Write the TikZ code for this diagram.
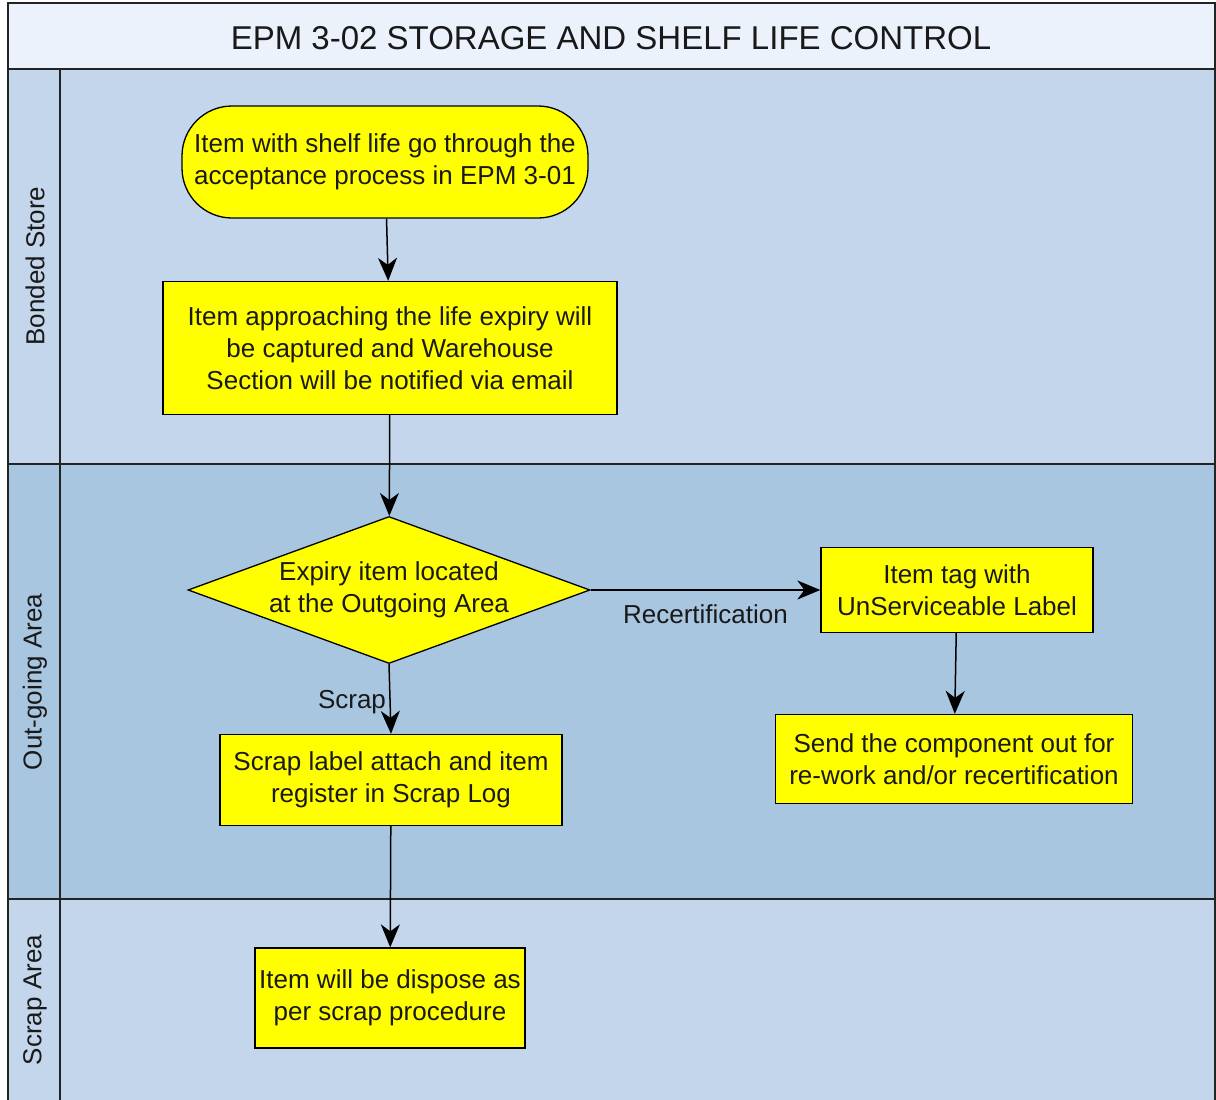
\documentclass[tikz,border=0pt]{standalone}
\usepackage{fontspec}
\setmainfont{Liberation Sans}
\usepackage{tikz}
\usetikzlibrary{positioning,arrows.meta,shapes.geometric}
\usepackage{xcolor}
\definecolor{titlebg}{RGB}{235,242,252}
\definecolor{laneA}{RGB}{196,214,235}
\definecolor{laneB}{RGB}{169,198,225}
\definecolor{frame}{RGB}{35,35,35}
\definecolor{txt}{RGB}{25,25,25}
\definecolor{boxfill}{RGB}{255,255,0}

\begin{document}
\begin{tikzpicture}[
    x=1pt, y=-1pt,
    base/.style={draw=black, line width=1.3pt, fill=boxfill, align=center, text=txt, font=\fontsize{26}{32}\selectfont, inner sep=0pt},
    box/.style={base, rectangle},
    terminal/.style={base, rectangle, rounded corners=50pt},
    decision/.style={base, diamond, aspect=2.7, inner xsep=-60pt, inner ysep=-10pt},
    lanelabel/.style={rotate=90, text=txt, font=\fontsize{26}{32}\selectfont},
    edgelabel/.style={text=txt, font=\fontsize{26}{32}\selectfont},
    lane/.style={draw=frame, line width=1.6pt},
    arrow/.style={-{Stealth[length=23pt, width=19pt, inset=7pt]}, line width=1.5pt}
]
    \useasboundingbox (0,0) rectangle (1216,1100);

    % Swimlane backgrounds
    \fill[titlebg] (8,3) rectangle (1215,69);
    \fill[laneA] (8,69) rectangle (1215,464);
    \fill[laneB] (8,464) rectangle (1215,899);
    \fill[laneA] (8,899) rectangle (1215,1101);

    % Swimlane lines
    \draw[lane] (8,1101) -- (8,3) -- (1215,3) -- (1215,1101);
    \draw[lane] (8,69) -- (1215,69);
    \draw[lane] (8,464) -- (1215,464);
    \draw[lane] (8,899) -- (1215,899);
    \draw[lane] (60,69) -- (60,1101);

    % Title
    \node[text=txt, font=\fontsize{33}{40}\selectfont] (title) at (611,38) {EPM 3-02 STORAGE AND SHELF LIFE CONTROL};

    % Lane labels
    \node[lanelabel] (bonded) at (35,266) {Bonded Store};
    \node[lanelabel] (outgoing) at (35,682) {Out-going Area};
    \node[lanelabel] (scraparea) at (35,1000) {Scrap Area};

    % Start
    \node[terminal, minimum width=406pt, minimum height=112pt] (accept) at (385,162) {Item with shelf life go through the\\acceptance process in EPM 3-01};

    % Expiry capture
    \node[box, minimum width=454pt, minimum height=133pt] (capture) at (390,348) {Item approaching the life expiry will\\be captured and Warehouse\\Section will be notified via email};

    % Decision
    \node[decision, minimum width=402pt, minimum height=147pt] (located) at (389,590) {Expiry item located\\at the Outgoing Area};

    % Recertification branch
    \node[box, minimum width=272pt, minimum height=85pt] (tag) at (957,590) {Item tag with\\UnServiceable Label};
    \node[box, minimum width=357pt, minimum height=89pt] (send) at (954,759) {Send the component out for\\re-work and/or recertification};

    % Scrap branch
    \node[box, minimum width=342pt, minimum height=91pt] (scraplog) at (391,780) {Scrap label attach and item\\register in Scrap Log};
    \node[box, minimum width=270pt, minimum height=100pt] (dispose) at (390,998) {Item will be dispose as\\per scrap procedure};

    % Arrows
    \draw[arrow] (accept) -- (capture);
    \draw[arrow] (capture) -- (located);
    \draw[arrow] (located.east) -- node[edgelabel, below=11pt] {Recertification} (tag.west);
    \draw[arrow] (located.south) -- node[edgelabel, left, yshift=-3pt] {Scrap} (scraplog.north);
    \draw[arrow] (tag) -- (send);
    \draw[arrow] (scraplog) -- (dispose);
\end{tikzpicture}
\end{document}
